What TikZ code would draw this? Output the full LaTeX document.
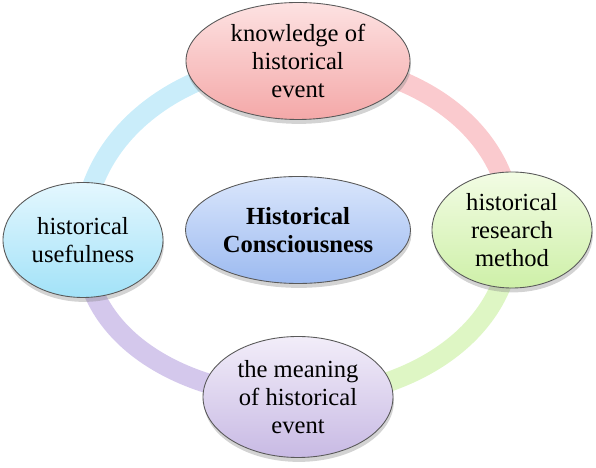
\documentclass[tikz,border=0pt]{standalone}
\usepackage{fontspec}
\setmainfont{Liberation Serif}
\usetikzlibrary{shapes.geometric,shadows,backgrounds}

\definecolor{pinkA}{RGB}{253,226,226}
\definecolor{pinkB}{RGB}{244,168,168}
\definecolor{greenA}{RGB}{242,252,228}
\definecolor{greenB}{RGB}{206,240,168}
\definecolor{lilacA}{RGB}{242,237,249}
\definecolor{lilacB}{RGB}{200,186,228}
\definecolor{blueA}{RGB}{228,247,254}
\definecolor{blueB}{RGB}{162,226,248}
\definecolor{coreA}{RGB}{218,230,252}
\definecolor{coreB}{RGB}{156,186,240}
\definecolor{pinkL}{RGB}{250,202,206}
\definecolor{greenL}{RGB}{222,246,196}
\definecolor{lilacL}{RGB}{212,200,236}
\definecolor{blueL}{RGB}{202,237,250}

\begin{document}
\begin{tikzpicture}[
    topic/.style={ellipse,draw=black!65,line width=0.5pt,inner sep=0pt,align=center,
      font=\fontsize{14}{16}\selectfont,
      drop shadow={opacity=0.35,shadow xshift=0.5pt,shadow yshift=-2.5pt}},
    link/.style={line width=0.4cm}]
    \useasboundingbox (-5.96,-4.72) rectangle (5.96,4.64);
    \node[topic,top color=pinkA,bottom color=pinkB,minimum width=4.48cm,minimum height=2.34cm] at (0,3.42) (know) {knowledge of\\historical\\event};
    \node[topic,top color=greenA,bottom color=greenB,minimum width=3.2cm,minimum height=2.32cm] at (4.28,0.04) (method) {historical\\research\\method};
    \node[topic,top color=lilacA,bottom color=lilacB,minimum width=3.8cm,minimum height=2.42cm] at (0,-3.3) (meaning) {the meaning\\of historical\\event};
    \node[topic,top color=blueA,bottom color=blueB,minimum width=3.2cm,minimum height=2.3cm] at (-4.3,-0.16) (useful) {historical\\usefulness};
    \node[topic,top color=coreA,bottom color=coreB,minimum width=4.5cm,minimum height=2.14cm] at (0,0.04) (core) {\textbf{Historical}\\\textbf{Consciousness}};
    \begin{scope}[on background layer]
      \draw[link,pinkL] (know.center) to[out=0,in=90] (method.center);
      \draw[link,greenL] (method.center) to[out=-90,in=0] (meaning.center);
      \draw[link,lilacL] (meaning.center) to[out=180,in=-90] (useful.center);
      \draw[link,blueL] (useful.center) to[out=90,in=180] (know.center);
    \end{scope}
  \end{tikzpicture}
\end{document}
